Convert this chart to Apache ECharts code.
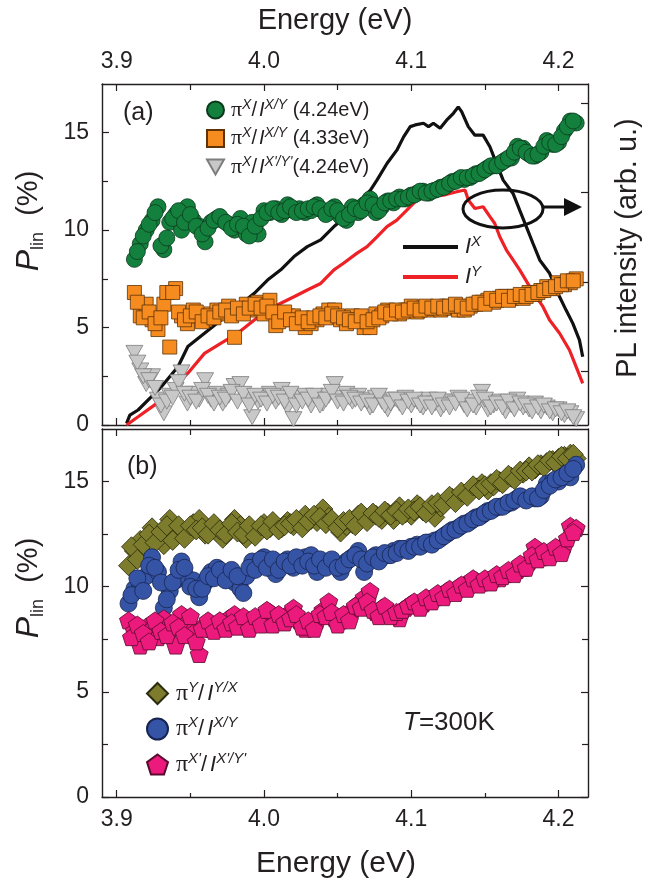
<!DOCTYPE html>
<html><head><meta charset="utf-8">
<script src="https://cdn.jsdelivr.net/npm/echarts@6/dist/echarts.min.js"></script>
<style>html,body{margin:0;padding:0;background:#fff}#c{width:645px;height:887px}</style>
</head><body><div id="c"></div>
<script>
// ---------- DATA ----------
// panel (a): energies of the scatter points (main grid and in-between readings)
const energyA = [3.912,3.916,3.920,3.924,3.928,3.932,3.936,3.940,3.944,3.948,3.952,3.956,3.960,3.964,3.968,3.972,3.976,3.980,3.984,3.988,3.992,3.996,4.000,4.004,4.008,4.012,4.016,4.020,4.024,4.028,4.032,4.036,4.040,4.044,4.048,4.052,4.056,4.060,4.064,4.068,4.072,4.076,4.080,4.084,4.088,4.092,4.096,4.100,4.104,4.108,4.112,4.116,4.120,4.124,4.128,4.132,4.136,4.140,4.144,4.148,4.152,4.156,4.160,4.164,4.168,4.172,4.176,4.180,4.184,4.188,4.192,4.196,4.200,4.204,4.208,4.212];
const energyAmid = [3.914,3.918,3.922,3.926,3.930,3.934,3.938,3.942,3.946,3.950,3.954,3.958,3.962,3.966,3.970,3.974,3.978,3.982,3.986,3.990,3.994,3.998,4.002,4.006,4.010,4.014,4.018,4.022,4.026,4.030,4.034,4.038,4.042,4.046,4.050,4.054,4.058,4.062,4.066,4.070,4.074,4.078,4.082,4.086,4.090,4.094,4.098,4.102,4.106,4.110,4.114,4.118,4.122,4.126,4.130,4.134,4.138,4.142,4.146,4.150,4.154,4.158,4.162,4.166,4.170,4.174,4.178,4.182,4.186,4.190,4.194,4.198,4.202,4.206,4.210];
const piX_IXY_424 = [8.5,9.3,10.0,10.5,11.2,9.0,10.4,10.8,10.0,11.2, 10.5,10.2,9.4,10.4,10.6,10.5,10.3,10.0,10.6,9.8, 10.4,9.8,11.0,10.9,11.1,10.8,11.3,11.0,11.1,10.9, 11.0,11.3,11.0,10.9,11.2,10.7,10.5,11.2,10.9,11.3, 11.6,10.9,11.2,11.5,11.4,11.7,11.6,11.8,11.9,12.0, 11.9,12.05,12.2,12.3,12.5,12.6,12.6,12.7,12.9,13.0, 13.2,13.3,13.4,13.6,13.7,14.3,14.2,13.9,13.8,14.0, 14.6,14.4,14.5,15.1,15.6,15.5];
const piX_IXY_424_mid = [8.9,9.7,10.3,10.9,9.2,9.6,10.6,11.0,10.4,10.8, 10.2,9.8,10.1,10.5,10.7,10.4,10.1,10.3,10.2,9.7, 10.2,10.6,10.9,11.1,10.9,11.0,11.2,10.9,11.0,11.1, 11.2,11.1,10.8,11.1,11.0,10.6,10.8,11.1,11.0,11.4, 11.3,11.0,11.4,11.5,11.6,11.6,11.7,11.8,12.0,11.9, 12.0,12.1,12.2,12.4,12.5,12.7,12.7,12.8,12.9,13.1, 13.3,13.3,13.5,13.7,14.0,14.2,14.0,13.8,13.9,14.3, 14.5,14.4,14.8,15.3,15.6];
const piX_IXY_433 = [6.8,5.6,6.2,5.4,4.9,6.2,4.0,7.0,5.6,5.2, 5.9,5.6,5.4,5.7,5.9,5.7,6.1,4.5,5.9,6.2, 5.9,6.3,5.7,6.4,5.1,5.4,5.6,5.6,5.3,5.0, 5.2,5.4,5.7,5.9,5.9,5.4,5.2,5.6,5.4,5.0, 5.0,5.7,5.6,5.9,5.8,5.7,5.9,6.1,5.8,6.0, 5.9,6.0,5.9,6.1,6.0,5.9,5.9,6.1,6.2,6.3, 6.4,6.3,6.5,6.6,6.5,6.6,6.5,6.8,6.7,6.9, 7.1,7.0,7.3,7.2,7.3,7.5];
const piX_IXY_433_mid = [6.3,5.5,5.8,5.2,5.5,6.8,6.8,5.8,5.4,5.6, 5.8,5.3,5.6,5.5,5.8,5.9,5.6,6.0,5.7,6.0, 6.2,6.0,6.1,5.8,5.3,5.8,5.4,5.2,5.5,5.3, 5.5,5.6,5.5,5.7,5.6,5.5,5.4,5.3,5.6,5.3, 5.4,5.5,5.8,5.7,5.9,5.8,5.9,6.0,5.9,6.1, 6.0,6.1,6.0,6.1,6.2,6.1,6.0,6.2,6.3,6.2, 6.5,6.4,6.6,6.4,6.6,6.7,6.6,6.7,6.8,6.9, 7.0,7.1,7.2,7.4,7.4];
const piX_IXpYp_424 = [3.7,2.8,2.1,2.5,1.3,0.6,1.5,1.8,2.7,1.1, 1.6,1.3,2.3,1.3,1.6,1.1,1.5,2.0,2.1,1.3, 0.4,1.2,1.4,1.6,1.2,1.8,0.9,0.3,1.4,1.5, 1.0,1.3,1.1,1.5,2.1,1.4,1.6,1.2,1.5,1.3, 0.9,1.4,1.2,0.8,1.3,1.1,1.4,1.0,1.2,0.9, 1.3,1.1,0.8,1.2,1.2,1.4,1.0,1.2,0.9,1.7, 0.8,1.0,1.2,0.7,1.0,1.3,0.9,0.8,1.1,0.7, 0.9,0.6,0.8,0.5,0.6,0.3];
const piX_IXpYp_424_mid = [3.2,2.5,2.3,1.9,1.0,1.2,1.4,2.2,1.6,1.4, 1.2,1.8,1.5,1.1,1.4,1.3,1.7,1.2,1.6,1.0, 1.5,1.3,1.1,1.5,1.4,1.2,1.6,1.0,1.2,1.3, 1.5,1.0,1.3,1.7,1.2,1.1,1.4,1.3,1.1,1.2, 1.0,1.5,1.0,1.1,1.3,0.9,1.2,1.3,1.0,1.1, 0.9,1.3,1.0,0.9,1.1,1.3,0.8,1.0,1.4,1.3, 0.9,1.1,0.9,1.2,0.8,1.1,1.0,0.7,0.9,1.0, 0.7,0.8,0.6,0.7,0.4];

// panel (a): PL intensity spectra (arb. u., right axis)
const energyIX = [3.9067,3.9089,3.9145,3.9236,3.9303,3.9416,3.9483,3.9596,3.9709,3.9821,3.9934,4.0024,4.0114,4.0204,4.0294,4.0385,4.0475,4.0529,4.0623,4.0723,4.0767,4.0835,4.0902,4.0948,4.0993,4.1027,4.1083,4.1117,4.1150,4.1196,4.1240,4.1286,4.1319,4.1342,4.1387,4.1432,4.1488,4.1534,4.1578,4.1624,4.1691,4.1736,4.1781,4.1826,4.1872,4.1939,4.2007,4.2051,4.2097,4.2142,4.2164];
const intensityIX = [0.005,0.029,0.044,0.083,0.112,0.171,0.230,0.269,0.308,0.347,0.386,0.425,0.455,0.494,0.523,0.543,0.582,0.601,0.645,0.689,0.718,0.767,0.806,0.845,0.875,0.880,0.885,0.875,0.885,0.870,0.894,0.914,0.933,0.919,0.875,0.850,0.850,0.816,0.767,0.718,0.679,0.630,0.582,0.533,0.484,0.445,0.376,0.337,0.298,0.249,0.200];
const energyIY = [3.9067,3.9145,3.9258,3.9371,3.9483,3.9596,3.9709,3.9821,3.9934,4.0024,4.0114,4.0204,4.0294,4.0385,4.0475,4.0542,4.0632,4.0700,4.0767,4.0835,4.0902,4.0970,4.1038,4.1128,4.1218,4.1308,4.1365,4.1387,4.1432,4.1488,4.1534,4.1567,4.1601,4.1646,4.1691,4.1736,4.1804,4.1849,4.1894,4.1939,4.2007,4.2074,4.2119,4.2164];
const intensityIY = [0.0,0.024,0.059,0.103,0.152,0.210,0.240,0.269,0.308,0.337,0.357,0.376,0.396,0.415,0.455,0.475,0.504,0.523,0.552,0.582,0.601,0.630,0.660,0.670,0.674,0.684,0.689,0.660,0.635,0.640,0.611,0.591,0.552,0.513,0.484,0.455,0.406,0.376,0.347,0.308,0.269,0.220,0.171,0.122];

// panel (b)
const energyB = [3.908,3.912,3.916,3.920,3.924,3.928,3.932,3.936,3.940,3.944,3.948,3.952,3.956,3.960,3.964,3.968,3.972,3.976,3.980,3.984,3.988,3.992,3.996,4.000,4.004,4.008,4.012,4.016,4.020,4.024,4.028,4.032,4.036,4.040,4.044,4.048,4.052,4.056,4.060,4.064,4.068,4.072,4.076,4.080,4.084,4.088,4.092,4.096,4.100,4.104,4.108,4.112,4.116,4.120,4.124,4.128,4.132,4.136,4.140,4.144,4.148,4.152,4.156,4.160,4.164,4.168,4.172,4.176,4.180,4.184,4.188,4.192,4.196,4.200,4.204,4.208,4.212];
const energyBmid = [3.910,3.914,3.918,3.922,3.926,3.930,3.934,3.938,3.942,3.946,3.950,3.954,3.958,3.962,3.966,3.970,3.974,3.978,3.982,3.986,3.990,3.994,3.998,4.002,4.006,4.010,4.014,4.018,4.022,4.026,4.030,4.034,4.038,4.042,4.046,4.050,4.054,4.058,4.062,4.066,4.070,4.074,4.078,4.082,4.086,4.090,4.094,4.098,4.102,4.106,4.110,4.114,4.118,4.122,4.126,4.130,4.134,4.138,4.142,4.146,4.150,4.154,4.158,4.162,4.166,4.170,4.174,4.178,4.182,4.186,4.190,4.194,4.198,4.202,4.206,4.210];
const piY_IYX = [11.0,11.7,12.2,11.5,12.8,12.3,12.0,13.2,12.5,12.6, 12.6,13.0,13.2,12.5,12.8,12.6,12.3,12.8,13.2,12.9, 12.3,12.6,12.7,13.0,12.8,12.9,12.8,13.1,12.9,13.0, 13.4,13.2,13.1,13.7,13.3,13.0,12.6,12.9,13.0,13.4, 13.3,13.3,13.4,13.2,13.5,13.2,13.8,13.5,13.4,13.9, 13.6,13.7,13.3,13.8,14.1,14.2,14.2,14.4,14.6,14.7, 14.9,14.6,14.8,15.0,15.1,15.2,15.3,15.4,15.7,15.6, 15.8,15.9,16.0,16.1,16.2,16.3,16.1];
const piY_IYX_mid = [11.9,11.3,12.0,12.5,12.1,12.6,12.9,12.2,12.9,12.3, 12.9,12.7,12.8,12.5,13.0,12.7,12.5,13.0,12.6,12.5, 12.9,12.4,12.9,12.7,13.1,12.7,12.9,13.0,13.2,12.8, 13.1,13.4,13.3,13.0,13.2,12.8,13.1,13.2,12.9,13.5, 13.1,13.5,13.3,13.6,13.4,13.6,13.4,13.7,13.6,13.8, 13.5,13.9,14.0,13.9,14.3,14.0,14.5,14.3,14.8,14.6, 14.8,14.9,15.1,14.9,15.3,15.1,15.5,15.5,15.5,15.8, 15.7,16.0,15.9,16.2,16.1,16.3];
const piX_IXY = [9.2,9.9,10.1,10.5,11.4,10.7,9.0,9.8,10.3,11.2, 10.4,10.3,9.5,10.2,10.7,10.9,10.6,10.6,10.2,9.9, 10.5,11.2,11.0,11.4,11.1,10.6,11.0,11.3,10.9,11.2, 11.4,11.5,10.7,11.2,11.0,11.1,10.7,11.2,11.4,11.7, 10.7,11.3,11.5,11.4,11.5,11.7,11.8,11.8,11.9,12.0, 12.0,12.1,12.2,12.3,12.5,12.7,12.8,13.0,13.1,13.3, 13.4,13.6,13.7,13.8,13.9,14.0,14.2,14.2,14.2,14.2, 14.3,14.9,15.0,15.0,15.3,15.2,15.8];
const piX_IXY_mid = [9.6,10.4,9.8,11.0,10.9,10.2,9.4,10.2,10.8,10.9, 10.0,9.9,9.9,10.5,10.4,10.8,10.3,10.8,10.5,9.7, 10.9,10.8,11.3,10.9,11.3,10.8,11.2,11.0,11.4,11.0, 11.2,11.0,11.3,10.9,11.3,10.9,11.0,11.3,11.5,11.3, 11.1,11.4,11.2,11.6,11.5,11.6,11.8,11.7,11.9,11.9, 12.1,12.0,12.2,12.4,12.6,12.7,12.9,13.0,13.2,13.3, 13.5,13.6,13.8,13.8,14.0,14.1,14.3,14.1,14.3,14.2, 14.6,14.8,15.1,15.2,15.4,15.6];
const piXp_IXpYp = [8.4,7.9,7.2,8.1,8.0,7.6,8.5,8.0,7.2,8.7, 8.3,7.8,6.8,8.2,8.0,8.2,8.2,8.5,8.7,8.4, 8.2,8.4,8.5,8.6,8.8,8.4,8.5,8.7,9.0,8.4, 8.0,8.2,8.4,8.9,9.3,8.5,8.4,8.6,8.9,9.2, 9.5,9.8,8.8,9.0,8.8,8.7,8.5,9.0,9.2,9.15, 9.2,9.4,9.5,9.6,9.8,9.8,10.0,10.1,10.2,10.3, 10.2,10.3,10.4,10.4,10.6,10.7,10.8,10.9,11.2,11.9, 11.4,11.5,11.7,11.8,12.0,12.9,12.8];
const piXp_IXpYp_mid = [7.6,8.2,7.8,7.4,8.4,7.9,7.7,8.3,8.1,7.7, 8.6,7.4,8.0,8.4,7.9,8.4,8.0,8.3,8.1,8.6, 8.0,8.6,8.2,8.9,8.2,8.7,8.3,8.5,8.7,8.1, 8.4,8.0,8.7,8.6,8.8,8.2,8.7,8.4,9.1,9.0, 9.3,8.9,8.6,9.1,8.6,8.8,8.9,9.1,9.3,9.0, 9.5,9.3,9.7,9.5,9.9,9.7,10.1,9.9,10.4,10.1, 10.4,10.2,10.6,10.5,10.8,10.6,11.1,10.9,11.5,11.3, 11.7,11.4,11.9,11.6,12.3,12.6];

// ticks
const xTickValues = [3.9, 4.0, 4.1, 4.2];
const xTickLabels = ['3.9', '4.0', '4.1', '4.2'];
const xMinorValues = [3.95, 4.05, 4.15];
const yTickValues = [0, 5, 10, 15];
const yTickLabels = ['0', '5', '10', '15'];
const yMinorValues = [2.5, 7.5, 12.5];
const plTickValues = [0.158, 0.420, 0.684, 0.945];

// ---------- STYLE ----------
const INK = '#231f20';
const FONT = '"Liberation Sans", Arial, sans-serif';
const SERIF = '"Liberation Serif", "Times New Roman", serif';

function labelFor(vals, labels) {
  return v => { let k = 0, d = 1e9; vals.forEach((t, i) => { if (Math.abs(t - v) < d) { d = Math.abs(t - v); k = i; } }); return labels[k]; };
}
function xAx(grid, pos, ticks, len, line, labels) {
  return {
    type: 'value', gridIndex: grid, position: pos, min: 3.89, max: 4.22,
    splitLine: {show: false},
    axisLine: {show: line, onZero: false, lineStyle: {color: INK, width: 1.4}},
    axisTick: {show: true, inside: true, length: len, customValues: ticks, lineStyle: {color: INK, width: 1.2}},
    axisLabel: labels ? {show: true, customValues: xTickValues, formatter: labelFor(xTickValues, xTickLabels),
      margin: 11, fontSize: 23, fontFamily: FONT, color: INK} : {show: false}
  };
}
function yAx(grid, pos, ticks, len, line, labels, max) {
  return {
    type: 'value', gridIndex: grid, position: pos, min: 0, max: max,
    splitLine: {show: false},
    axisLine: {show: line, onZero: false, lineStyle: {color: INK, width: 1.4}},
    axisTick: {show: true, inside: true, length: len, customValues: ticks, lineStyle: {color: INK, width: 1.2}},
    axisLabel: labels ? {show: true, customValues: yTickValues, formatter: labelFor(yTickValues, yTickLabels),
      margin: 13, fontSize: 23, fontFamily: FONT, color: INK} : {show: false}
  };
}
const zip = (xs, ys) => xs.map((x, i) => [x, ys[i]]);
const PENTA = 'path://M0,-10L9.51,-3.09L5.88,8.09L-5.88,8.09L-9.51,-3.09Z';
const TRI_DOWN = 'path://M0,0L10,0L5,8.7Z';

const legendText = {
  g1: '{p|π}{s|X}{n|/}{i|I}{s|X/Y}{n| (4.24eV)}',
  o1: '{p|π}{s|X}{n|/}{i|I}{s|X/Y}{n| (4.33eV)}',
  t1: "{p|π}{s|X}{n|/}{i|I}{s|X'/Y'}{n|(4.24eV)}",
  IX: '{i|I}{s|X}',
  IY: '{i|I}{s|Y}',
  d2: '{p|π}{s|Y}{n|/}{i|I}{s|Y/X}',
  b2: '{p|π}{s|X}{n|/}{i|I}{s|X/Y}',
  p2: "{p|π}{s|X'}{n|/}{i|I}{s|X'/Y'}"
};
function richSet(fs, sfs, lh, pad) {
  return {
    p: {fontFamily: SERIF, fontSize: fs + 2, lineHeight: lh, verticalAlign: 'middle', color: INK, padding: [0, 0, 0, pad]},
    n: {fontFamily: FONT, fontSize: fs, lineHeight: lh, verticalAlign: 'middle', color: INK},
    i: {fontFamily: FONT, fontStyle: 'italic', fontSize: fs, lineHeight: lh, verticalAlign: 'middle', color: INK, padding: [0, 0, 0, pad]},
    s: {fontFamily: FONT, fontStyle: 'italic', fontSize: sfs, lineHeight: sfs - 3, verticalAlign: 'top', color: INK}
  };
}
const PLIN_RICH = {
  P: {fontFamily: FONT, fontStyle: 'italic', fontSize: 32, lineHeight: 36, verticalAlign: 'middle', fill: INK},
  sub: {fontFamily: FONT, fontSize: 18, lineHeight: 14, verticalAlign: 'bottom', fill: INK},
  n: {fontFamily: FONT, fontSize: 29, lineHeight: 36, verticalAlign: 'middle', fill: INK}
};

const chart = echarts.init(document.getElementById('c'), null, {renderer: 'canvas'});
chart.setOption({
  animation: false,
  backgroundColor: '#ffffff',
  grid: [
    {left: 102, top: 84, width: 486, height: 341},
    {left: 102, top: 429, width: 486, height: 368}
  ],
  xAxis: [
    xAx(0, 'bottom', xTickValues, 7, true, false),
    xAx(0, 'bottom', xMinorValues, 5, false, false),
    xAx(0, 'top', xTickValues, 7, true, true),
    xAx(0, 'top', xMinorValues, 6, false, false),
    xAx(1, 'bottom', xTickValues, 7, true, true),
    xAx(1, 'bottom', xMinorValues, 4, false, false),
    xAx(1, 'top', xTickValues, 7, true, false),
    xAx(1, 'top', xMinorValues, 6, false, false)
  ],
  yAxis: [
    yAx(0, 'left', yTickValues, 7, true, true, 17.5),
    yAx(0, 'left', yMinorValues, 6, false, false, 17.5),
    yAx(0, 'right', plTickValues, 7, true, false, 1),
    yAx(1, 'left', yTickValues, 7, true, true, 17.5),
    yAx(1, 'left', yMinorValues, 6, false, false, 17.5),
    yAx(1, 'right', yTickValues, 7, true, false, 17.5),
    yAx(1, 'right', yMinorValues, 6, false, false, 17.5)
  ],
  legend: [
    {data: ['g1', 'o1', 't1'], orient: 'vertical', left: 201, top: 93, itemWidth: 17, itemHeight: 17, itemGap: 5.5,
     formatter: n => legendText[n], textStyle: {rich: richSet(20, 14, 24, 2)}},
    {data: [{name: 'IX', icon: 'rect'}, {name: 'IY', icon: 'rect'}], orient: 'vertical', left: 398, top: 229,
     itemWidth: 55, itemHeight: 4, itemGap: 6, formatter: n => legendText[n], textStyle: {rich: richSet(22, 15, 26, 2)}},
    {data: ['d2', 'b2', 'p2'], orient: 'vertical', left: 141, top: 675, itemWidth: 21, itemHeight: 21, itemGap: 10,
     formatter: n => legendText[n], textStyle: {rich: richSet(22, 15, 27, 3)}}
  ],
  series: [
    {name: 'IX', type: 'line', xAxisIndex: 0, yAxisIndex: 2, data: zip(energyIX, intensityIX), showSymbol: false, symbol: 'none', z: 1,
     lineStyle: {color: '#111111', width: 3.2}, itemStyle: {color: '#111111'}},
    {name: 'IY', type: 'line', xAxisIndex: 0, yAxisIndex: 2, data: zip(energyIY, intensityIY), showSymbol: false, symbol: 'none', z: 1,
     lineStyle: {color: '#ee2126', width: 3.2}, itemStyle: {color: '#ee2126'}},
    {name: 't1', type: 'scatter', xAxisIndex: 0, yAxisIndex: 0,
     data: zip(energyA, piX_IXpYp_424).concat(zip(energyAmid, piX_IXpYp_424_mid)), symbol: TRI_DOWN,
     symbolSize: [17, 15], z: 3, itemStyle: {color: '#c8c8c8', borderColor: '#7d7d7d', borderWidth: 0.8, opacity: 1}},
    {name: 'o1', type: 'scatter', xAxisIndex: 0, yAxisIndex: 0,
     data: zip(energyA, piX_IXY_433).concat(zip(energyAmid, piX_IXY_433_mid)), symbol: 'rect',
     symbolSize: 14, z: 3, itemStyle: {color: '#f68b1f', borderColor: '#5e3308', borderWidth: 0.8, opacity: 1}},
    {name: 'g1', type: 'scatter', xAxisIndex: 0, yAxisIndex: 0,
     data: zip(energyA, piX_IXY_424).concat(zip(energyAmid, piX_IXY_424_mid)), symbol: 'circle',
     symbolSize: 16, z: 3, itemStyle: {color: '#14803e', borderColor: '#0a3a1c', borderWidth: 0.8, opacity: 1}},
    {name: 'd2', type: 'scatter', xAxisIndex: 4, yAxisIndex: 3,
     data: zip(energyB, piY_IYX).concat(zip(energyBmid, piY_IYX_mid)), symbol: 'diamond',
     symbolSize: 20, z: 3, itemStyle: {color: '#7c7c2c', borderColor: '#2a2a0c', borderWidth: 0.8, opacity: 1}},
    {name: 'b2', type: 'scatter', xAxisIndex: 4, yAxisIndex: 3,
     data: zip(energyB, piX_IXY).concat(zip(energyBmid, piX_IXY_mid)), symbol: 'circle',
     symbolSize: 17, z: 3, itemStyle: {color: '#3654a6', borderColor: '#17244f', borderWidth: 0.8, opacity: 1}},
    {name: 'p2', type: 'scatter', xAxisIndex: 4, yAxisIndex: 3,
     data: zip(energyB, piXp_IXpYp).concat(zip(energyBmid, piXp_IXpYp_mid)), symbol: PENTA,
     symbolSize: [18, 17], z: 3, itemStyle: {color: '#ec1a7d', borderColor: '#5a0a2e', borderWidth: 0.8, opacity: 1}}
  ],
  graphic: [
    {type: 'text', x: 335, y: 21, style: {text: 'Energy (eV)', font: '29px ' + FONT, fill: INK, align: 'center', verticalAlign: 'middle'}},
    {type: 'text', x: 336, y: 864, style: {text: 'Energy (eV)', font: '30px ' + FONT, fill: INK, align: 'center', verticalAlign: 'middle'}},
    {type: 'text', x: 29, y: 221, rotation: Math.PI / 2, style: {text: '{P|P}{sub|lin}{n|  (%)}', align: 'center', verticalAlign: 'middle', rich: PLIN_RICH}},
    {type: 'text', x: 29, y: 588, rotation: Math.PI / 2, style: {text: '{P|P}{sub|lin}{n|  (%)}', align: 'center', verticalAlign: 'middle', rich: PLIN_RICH}},
    {type: 'text', x: 628, y: 248, rotation: Math.PI / 2, style: {text: 'PL intensity (arb. u.)', font: '29px ' + FONT, fill: INK, align: 'center', verticalAlign: 'middle'}},
    {type: 'text', x: 123, y: 113, style: {text: '(a)', font: '25px ' + FONT, fill: INK, align: 'left', verticalAlign: 'middle'}},
    {type: 'text', x: 127, y: 467, style: {text: '(b)', font: '25px ' + FONT, fill: INK, align: 'left', verticalAlign: 'middle'}},
    {type: 'text', x: 403, y: 723, style: {text: '{t|T}{n|=300K}', align: 'left', verticalAlign: 'middle',
      rich: {t: {fontFamily: FONT, fontStyle: 'italic', fontSize: 26, fill: INK}, n: {fontFamily: FONT, fontSize: 26, fill: INK}}}},
    {type: 'ellipse', shape: {cx: 503, cy: 209, rx: 40, ry: 19}, style: {fill: 'none', stroke: '#111', lineWidth: 3}, z: 10},
    {type: 'line', shape: {x1: 543, y1: 207, x2: 568, y2: 207}, style: {stroke: '#111', lineWidth: 3}, z: 10},
    {type: 'polygon', shape: {points: [[564, 198], [582, 207], [564, 216]]}, style: {fill: '#111'}, z: 10}
  ]
});
</script>
</body></html>
